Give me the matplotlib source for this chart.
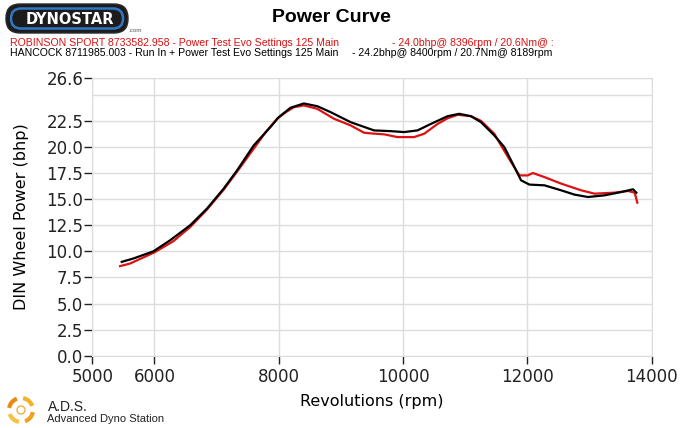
import matplotlib.pyplot as plt
import numpy as np
from matplotlib.patches import FancyBboxPatch, Arc

plt.rcParams['font.family'] = ['Liberation Sans', 'DejaVu Sans']

# run 1 (red) - ROBINSON SPORT
rpm_red = [5447, 5608, 6000, 6300, 6576, 6845, 7113, 7350, 7597, 7800, 7974, 8120, 8242,
           8403, 8619, 8887, 9156, 9371, 9532, 9700, 9909, 10177, 10339, 10554, 10720,
           10877, 11092, 11253, 11468, 11576, 11737, 11871, 12006, 12087, 12274, 12544,
           12866, 13081, 13403, 13618, 13726, 13769]
bhp_red = [8.58, 8.83, 9.9, 10.95, 12.33, 14.0, 15.9, 17.8, 19.83, 21.5, 22.7, 23.35, 23.8,
           23.97, 23.65, 22.7, 22.06, 21.36, 21.27, 21.2, 20.94, 20.94, 21.26, 22.2, 22.75,
           23.08, 22.94, 22.5, 21.26, 20.14, 18.55, 17.27, 17.27, 17.5, 17.11, 16.48,
           15.84, 15.52, 15.62, 15.78, 15.62, 14.66]

# run 2 (black) - HANCOCK
rpm_blk = [5474, 5661, 5984, 6253, 6576, 6845, 7113, 7329, 7597, 7866, 8000, 8189, 8403,
           8619, 8834, 9156, 9532, 9802, 10016, 10232, 10447, 10716, 10903, 11092, 11253,
           11468, 11629, 11765, 11898, 12032, 12274, 12544, 12758, 12974, 13242, 13511,
           13700, 13753]
bhp_blk = [8.99, 9.31, 10.0, 11.06, 12.5, 14.09, 16.0, 17.75, 20.14, 21.9, 22.85, 23.75, 24.16,
           23.9, 23.33, 22.37, 21.58, 21.51, 21.42, 21.58, 22.2, 22.94, 23.17, 22.94, 22.37,
           21.1, 19.98, 18.39, 16.8, 16.39, 16.32, 15.84, 15.43, 15.2, 15.36, 15.68,
           15.94, 15.62]

x_ticks = [5000, 6000, 8000, 10000, 12000, 14000]
y_ticks = [0, 2.5, 5, 7.5, 10, 12.5, 15, 17.5, 20, 22.5, 26.6]
y_labels = ['0.0', '2.5', '5.0', '7.5', '10.0', '12.5', '15.0', '17.5', '20.0', '22.5', '26.6']

fig = plt.figure(figsize=(6.85, 4.28), dpi=100)
ax = fig.add_axes([92.3/685, 1-355.7/428, (651.7-92.3)/685, (355.7-78)/428])

ax.plot(rpm_red, bhp_red, color='#dd1111', lw=1.6, zorder=3)
ax.plot(rpm_blk, bhp_blk, color='black', lw=1.6, zorder=4)

ax.set_xlim(5000, 14000)
ax.set_ylim(0, 26.6)
ax.set_xticks(x_ticks)
ax.set_yticks(y_ticks)
ax.set_yticklabels(y_labels)
ax.set_yticks([25], minor=True)
ax.tick_params(axis='y', which='minor', length=0)
ax.tick_params(axis='both', which='major', labelsize=12, colors='#222222', length=6,
               width=1, direction='out', pad=0.5)
ax.tick_params(axis='x', pad=2.5)
for lab in ax.get_xticklabels() + ax.get_yticklabels():
    lab.set_family('DejaVu Sans')
ax.grid(True, which='both', color='#dcdcdc', lw=1)
ax.set_axisbelow(True)
for s in ax.spines.values():
    s.set_color('#dcdcdc')

ax.set_xlabel('Revolutions (rpm)', fontsize=11.5, family='DejaVu Sans')
ax.set_ylabel('DIN Wheel Power (bhp)', fontsize=11.5, family='DejaVu Sans')
ax.xaxis.set_label_coords(0.5, -0.139)
ax.yaxis.set_label_coords(-0.114, 0.5)

# header
fig.text(331/685, 1-18/428, 'Power Curve', fontsize=14, fontweight='bold',
         ha='center', va='center')
fig.text(10/685, 1-43/428, 'ROBINSON SPORT 8733582.958 - Power Test Evo Settings 125 Main',
         fontsize=7.6, color='#dd1111', va='center')
fig.text(392/685, 1-43/428, '- 24.0bhp@ 8396rpm / 20.6Nm@ :',
         fontsize=7.6, color='#dd1111', va='center')
fig.text(10/685, 1-53/428, 'HANCOCK 8711985.003 - Run In + Power Test Evo Settings 125 Main',
         fontsize=7.6, color='black', va='center')
fig.text(352/685, 1-53/428, '- 24.2bhp@ 8400rpm / 20.7Nm@ 8189rpm',
         fontsize=7.6, color='black', va='center')

# Dynostar badge
lax = fig.add_axes([0, 1-38/428, 160/685, 38/428])
lax.set_xlim(0, 160)
lax.set_ylim(38, 0)
lax.axis('off')
lax.add_patch(FancyBboxPatch((6, 4), 122, 29, boxstyle='round,pad=0,rounding_size=14',
                             fc='#1c1c1c', ec='#2a2a2a', lw=1))
lax.add_patch(FancyBboxPatch((11, 8.5), 112, 20, boxstyle='round,pad=0,rounding_size=10',
                             fc='#1c1c1c', ec='#2f78c8', lw=1.8))
lax.text(70, 19, 'DYNOSTAR', color='white', fontsize=10.5, fontweight='bold',
         ha='center', va='center', family='DejaVu Sans')
lax.text(128, 31, '.com', color='#555555', fontsize=4.5, ha='left', va='center')

# A.D.S. logo
bax = fig.add_axes([0, 0, 180/685, 43/428])
bax.set_xlim(0, 180)
bax.set_ylim(43, 0)
bax.axis('off')
for a0, col in [(0, '#f0a020'), (90, '#f7c040'), (180, '#e88a10'), (270, '#f5b030')]:
    bax.add_patch(Arc((21, 25), 24, 24, theta1=a0 + 10, theta2=a0 + 70, color=col, lw=3))
bax.add_patch(Arc((21, 25), 8, 8, theta1=0, theta2=360, color='#f0b040', lw=1))
bax.text(48, 22, 'A.D.S.', fontsize=10, ha='left', va='center', color='#222222')
bax.text(47, 34, 'Advanced Dyno Station', fontsize=8, ha='left', va='center', color='#222222')

fig.savefig('out.png', dpi=100)
